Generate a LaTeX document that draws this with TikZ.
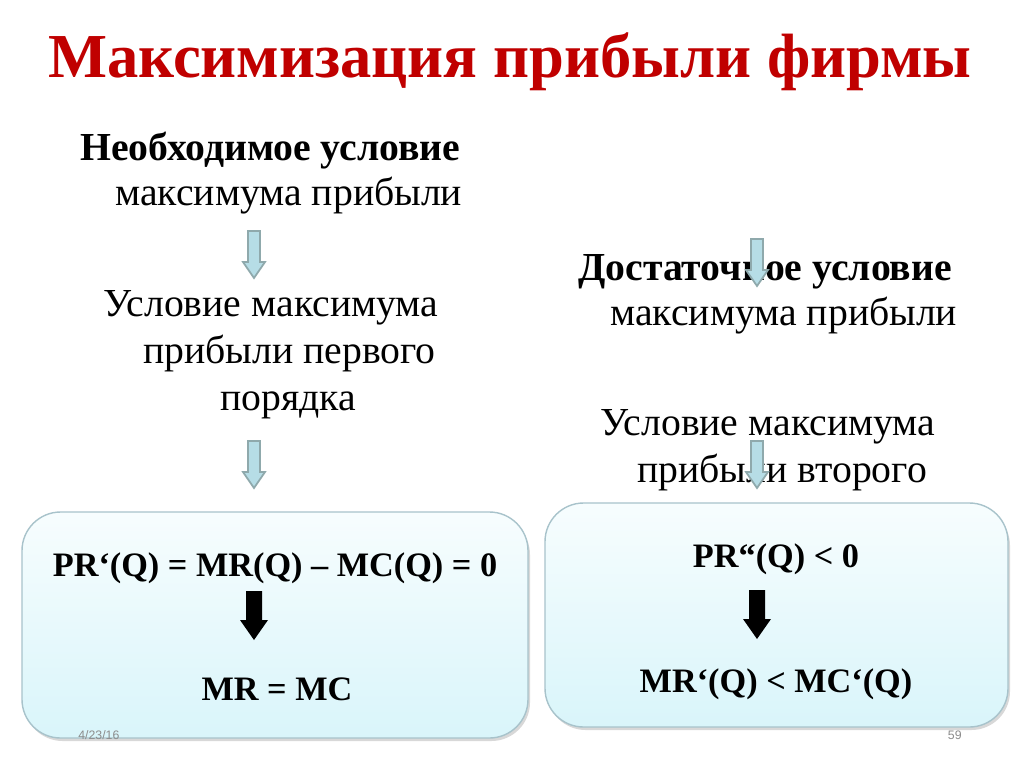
\documentclass[tikz,border=0pt]{standalone}
\usepackage{fontspec}
\setmainfont{Liberation Serif}
\setsansfont{Liberation Sans}
\definecolor{titlered}{HTML}{C00000}
\definecolor{arrfill}{HTML}{B6DDE6}
\definecolor{arrline}{HTML}{8FA9AC}
\definecolor{boxtop}{HTML}{F7FDFE}
\definecolor{boxbot}{HTML}{D9F5FA}
\definecolor{boxline}{HTML}{A8C3CB}
\begin{document}
\begin{tikzpicture}[x=0.02cm,y=-0.02cm,
  txt/.style={anchor=base west,inner sep=0pt,font=\fontsize{22.6}{26}\selectfont},
  btxt/.style={txt,font=\fontsize{22.6}{26}\selectfont\bfseries},
  ftxt/.style={anchor=base,inner sep=0pt,font=\fontsize{19.5}{23}\selectfont\bfseries},
  bluearrow/.style={fill=arrfill,draw=arrline,line width=1pt,line join=miter},
  blackarrow/.style={fill=black},
  panel/.style={rounded corners=22pt,top color=boxtop,bottom color=boxbot,draw=boxline,line width=0.8pt},
  foot/.style={inner sep=0pt,font=\sffamily\fontsize{7}{8}\selectfont,text=black!45}]
\useasboundingbox (0,0) rectangle (1024,768);
\fill[white] (0,0) rectangle (1024,768);
% title
\node[inner sep=0pt,anchor=base,text=titlered,font=\fontsize{35.6}{40}\selectfont\bfseries] (title) at (510,77) {Максимизация прибыли фирмы};
% left column
\node[btxt] (l1) at (80,160) {Необходимое условие};
\node[txt] (l2) at (115,205) {максимума прибыли};
\node[txt] (l3) at (103,316) {Условие максимума};
\node[txt] (l4) at (143,363) {прибыли первого};
\node[txt] (l5) at (220,410) {порядка};
% right column
\node[btxt] (r1) at (578,280) {Достаточное условие};
\node[txt] (r2) at (610,325) {максимума прибыли};
\node[txt] (r3) at (600,435) {Условие максимума};
\node[txt] (r4) at (637,482) {прибыли второго};
% blue arrows
\foreach \cx/\ty in {254/231, 254/441, 757/239, 757/441}{
  \draw[bluearrow] (\cx-6,\ty) -- (\cx+6,\ty) -- (\cx+6,\ty+31) -- (\cx+11,\ty+31) -- (\cx,\ty+47) -- (\cx-11,\ty+31) -- (\cx-6,\ty+31) -- cycle;
}
% panels
\fill[black!25,opacity=0.6,rounded corners=22pt] (24,516) rectangle (530,741);
\draw[panel] (22,512) rectangle (528,738);
\fill[black!25,opacity=0.6,rounded corners=22pt] (547,507) rectangle (1010,730);
\draw[panel] (545,503) rectangle (1008,727);
% left panel content
\node[ftxt] (f1) at (275,576) {PR‘(Q) = MR(Q) – MC(Q) = 0};
\node[ftxt] (f2) at (277,700) {MR = MC};
\fill[blackarrow] (246,591) -- (262,591) -- (262,620) -- (268,620) -- (254,640) -- (240,620) -- (246,620) -- cycle;
% right panel content
\node[ftxt] (g1) at (776,567) {PR“(Q) < 0};
\node[ftxt] (g2) at (776,692) {MR‘(Q) < MC‘(Q)};
\fill[blackarrow] (749,590) -- (765,590) -- (765,619) -- (771,619) -- (757,639) -- (743,619) -- (749,619) -- cycle;
% footer
\node[foot,anchor=base west] (date) at (78,739) {4/23/16};
\node[foot,anchor=base east] (page) at (962,739) {59};
\end{tikzpicture}
\end{document}
